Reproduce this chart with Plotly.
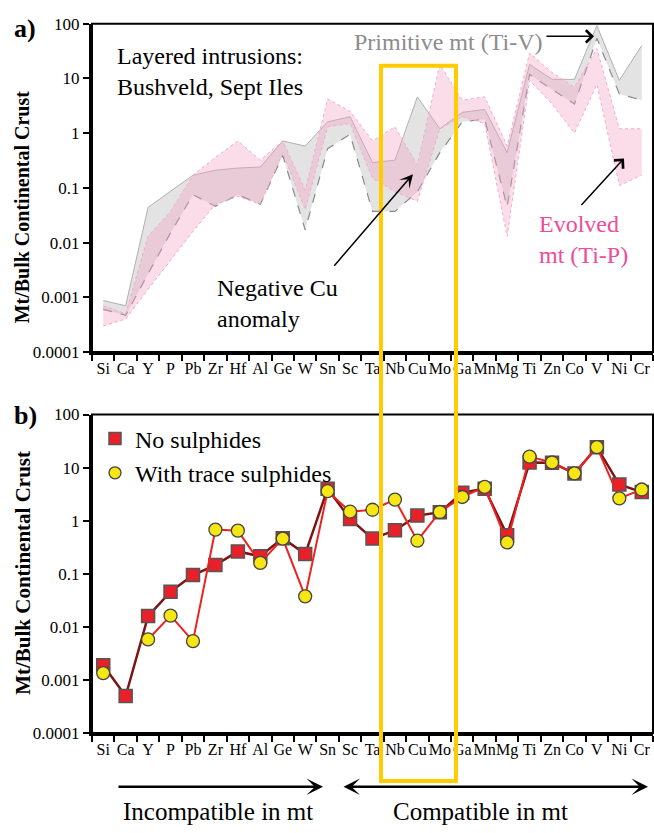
import plotly.graph_objects as go

W, H = 654, 833
FONT = "Liberation Serif, Times New Roman, Times, DejaVu Serif, serif"

elements = ["Si", "Ca", "Y", "P", "Pb", "Zr", "Hf", "Al", "Ge", "W", "Sn", "Sc", "Ta",
            "Nb", "Cu", "Mo", "Ga", "Mn", "Mg", "Ti", "Zn", "Co", "V", "Ni", "Cr"]

# Panel a: envelopes (Mt / Bulk Continental Crust)
primitive_upper = [0.00087, 0.0007, 0.044, 0.085, 0.17, 0.21, 0.23, 0.24, 0.72, 0.58, 1.6, 2.0, 0.29,
                   0.32, 4.6, 1.2, 2.4, 2.7, 0.44, 18, 9.6, 9.6, 92, 9.2, 40]
primitive_lower = [0.0006, 0.00047, 0.0027, 0.015, 0.075, 0.046, 0.075, 0.05, 0.39, 0.017, 0.52, 0.95, 0.037,
                   0.037, 0.085, 0.44, 1.6, 1.8, 0.045, 11.8, 6.3, 3.4, 54, 5.2, 4.0]
evolved_upper = [0.0007, 0.0005, 0.013, 0.037, 0.17, 0.36, 0.72, 0.32, 0.72, 0.09, 4.2, 2.5, 0.72,
                 1.3, 0.26, 18, 4.0, 4.6, 0.58, 29, 12.8, 6.9, 35, 1.2, 1.2]
evolved_lower = [0.0003, 0.0004, 0.0014, 0.0047, 0.016, 0.05, 0.07, 0.05, 0.44, 0.04, 1.3, 1.5, 0.15,
                 0.085, 0.057, 1.2, 2.0, 1.5, 0.013, 9.2, 3.4, 1.0, 7.8, 0.11, 0.17]

# Panel b
no_sulphides = [0.0019, 0.0005, 0.016, 0.046, 0.095, 0.146, 0.264, 0.214, 0.47, 0.235, 4.0, 1.08, 0.46,
                0.66, 1.25, 1.44, 3.36, 4.0, 0.535, 12.5, 12.4, 7.77, 24.3, 4.8, 3.46]
trace_sulphides = [0.00135, None, 0.0058, 0.0163, 0.0054, 0.68, 0.65, 0.16, 0.46, 0.0376, 3.6, 1.48, 1.61,
                   2.5, 0.42, 1.46, 2.8, 4.33, 0.39, 16.1, 12.5, 7.8, 24.3, 2.64, 3.87]

ytickvals = [0.0001, 0.001, 0.01, 0.1, 1, 10, 100]
yticktext = ["0.0001", "0.001", "0.01", "0.1", "1", "10", "100"]


def px(x):
    return x / W


def py(y):
    return 1 - y / H


fig = go.Figure()

# grey primitive envelope
fig.add_trace(go.Scatter(x=elements, y=primitive_upper, mode="lines",
                         line=dict(color="#b0b0b0", width=1), showlegend=False,
                         xaxis="x", yaxis="y", hoverinfo="skip"))
fig.add_trace(go.Scatter(x=elements, y=primitive_lower, mode="lines", fill="tonexty",
                         fillcolor="rgba(185,185,185,0.40)",
                         line=dict(color="#8a8a8a", width=1.2, dash="dash"), showlegend=False,
                         xaxis="x", yaxis="y", hoverinfo="skip"))
# pink evolved envelope
fig.add_trace(go.Scatter(x=elements, y=evolved_upper, mode="lines",
                         line=dict(color="#f2a9c8", width=1, dash="dot"), showlegend=False,
                         xaxis="x", yaxis="y", hoverinfo="skip"))
fig.add_trace(go.Scatter(x=elements, y=evolved_lower, mode="lines", fill="tonexty",
                         fillcolor="rgba(245,160,195,0.36)",
                         line=dict(color="#f2a9c8", width=1, dash="dot"), showlegend=False,
                         xaxis="x", yaxis="y", hoverinfo="skip"))

# panel b
fig.add_trace(go.Scatter(x=elements, y=no_sulphides, mode="lines+markers",
                         line=dict(color="#7d1414", width=2.5),
                         marker=dict(symbol="square", size=13, color="#e8202a",
                                     line=dict(color="#555555", width=1.5)),
                         showlegend=False, xaxis="x2", yaxis="y2"))
fig.add_trace(go.Scatter(x=elements, y=trace_sulphides, mode="lines+markers",
                         line=dict(color="#ee2020", width=2), connectgaps=False,
                         marker=dict(symbol="circle", size=13, color="#f5e614",
                                     line=dict(color="#444444", width=1.3)),
                         showlegend=False, xaxis="x2", yaxis="y2"))
# legend-only entries
fig.add_trace(go.Scatter(x=[None], y=[None], mode="markers", name="No sulphides",
                         marker=dict(symbol="square", size=12, color="#e8202a",
                                     line=dict(color="#555555", width=1.5)),
                         xaxis="x2", yaxis="y2"))
fig.add_trace(go.Scatter(x=[None], y=[None], mode="markers", name="With trace sulphides",
                         marker=dict(symbol="circle", size=12, color="#f5e614",
                                     line=dict(color="#444444", width=1.3)),
                         xaxis="x2", yaxis="y2"))

xdom = [px(92), px(653)]
xcommon = dict(type="category", categoryorder="array", categoryarray=elements,
               range=[-0.5, 24.5], tickson="boundaries", ticks="outside", ticklen=6,
               tickwidth=2, tickcolor="black", showline=True, linewidth=3, linecolor="black",
               showgrid=False, zeroline=False, tickangle=0,
               tickfont=dict(family=FONT, size=16, color="black"),
               domain=xdom)
ycommon = dict(type="log", range=[-4, 2], tickvals=ytickvals, ticktext=yticktext,
               ticks="outside", ticklen=6, tickwidth=2, tickcolor="black",
               showline=True, linewidth=3, linecolor="black", showgrid=False, zeroline=False,
               tickfont=dict(family=FONT, size=17, color="black"))

fig.update_layout(
    width=W, height=H,
    margin=dict(l=0, r=0, t=0, b=0),
    paper_bgcolor="white", plot_bgcolor="white",
    font=dict(family=FONT, color="black"),
    xaxis=dict(**xcommon, anchor="y"),
    yaxis=dict(**ycommon, domain=[py(351), py(15)], anchor="x"),
    xaxis2=dict(**xcommon, anchor="y2"),
    yaxis2=dict(**ycommon, domain=[py(741), py(415)], anchor="x2"),
    legend=dict(x=px(95), y=py(417), xanchor="left", yanchor="top", traceorder="normal",
                bgcolor="rgba(0,0,0,0)", font=dict(family=FONT, size=24, color="black"),
                tracegroupgap=0, itemsizing="trace"),
)

# frames (thinner top/right)
for xr, yr in (("x domain", "y domain"), ("x2 domain", "y2 domain")):
    fig.add_shape(type="rect", xref=xr, yref=yr, x0=0, x1=1, y0=0, y1=1,
                  line=dict(color="black", width=2), layer="above")

# yellow box
fig.add_shape(type="rect", xref="paper", yref="paper", x0=px(381), x1=px(456),
              y0=py(790), y1=py(58), line=dict(color="#FFCC00", width=4), layer="above")

ann = []


def text(x, y, s, size, color="black", bold=False, angle=0, align="left", xanchor="left"):
    ann.append(dict(x=px(x), y=py(y), xref="paper", yref="paper", text=("<b>%s</b>" % s) if bold else s,
                    showarrow=False, xanchor=xanchor, yanchor="middle", align=align,
                    textangle=angle, font=dict(family=FONT, size=size, color=color)))


def arrow(x0, y0, x1, y1, head, size=1.0, width=1.5, both=False):
    d = dict(x=px(x1), y=py(y1), xref="paper", yref="paper", ax=x0 - x1, ay=y0 - y1,
             text="", showarrow=True, arrowhead=head, arrowsize=size, arrowwidth=width,
             arrowcolor="black")
    if both:
        d.update(arrowside="end+start", startarrowhead=head, startarrowsize=size)
    ann.append(d)


text(12, 20, "a)", 26, bold=True)
text(12, 416, "b)", 26, bold=True)
text(22, 203, "Mt/Bulk Continental Crust", 20, bold=True, angle=-90, xanchor="center")
text(23, 577, "Mt/Bulk Continental Crust", 21, bold=True, angle=-90, xanchor="center")

text(115, 64, "Layered intrusions:<br>Bushveld, Sept Iles", 24)
text(352, 34, "Primitive mt (Ti-V)", 24, color="#8c8c8c")
text(537, 236, "Evolved<br>mt (Ti-P)", 24, color="#ee4c98")
text(215, 301, "Negative Cu<br>anomaly", 24)

arrow(545, 28, 594, 28, head=4, size=1.6, width=1.5)
arrow(580, 201, 624, 153, head=4, size=1.6, width=1.5)
arrow(333, 262, 413, 169, head=3, size=1.5, width=1.5)

arrow(117, 796, 323, 796, head=3, size=1.1, width=2.5)
arrow(342, 796, 648, 796, head=3, size=1.1, width=2.5, both=True)
text(218, 821, "Incompatible in mt", 25, xanchor="center")
text(480, 821, "Compatible in mt", 25, xanchor="center")

fig.update_layout(annotations=ann)

fig.write_html("out.html")
